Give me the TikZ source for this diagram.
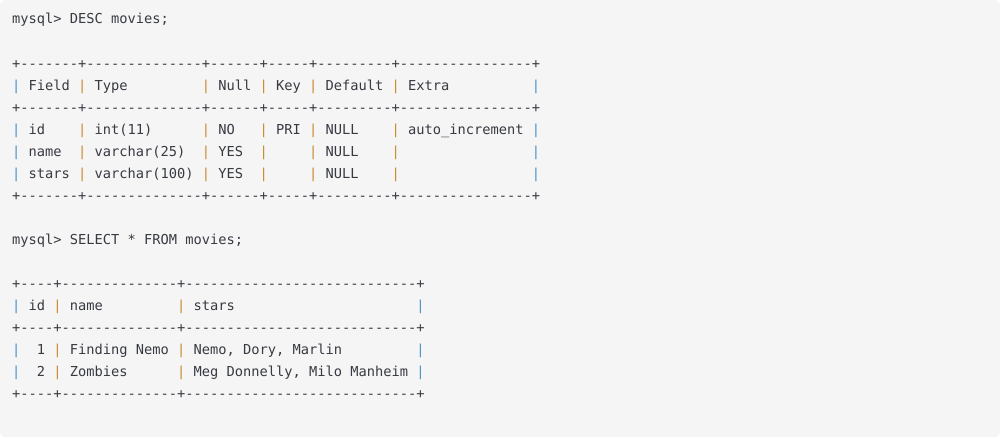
\documentclass[tikz,border=0pt]{standalone}
\usepackage{fontspec}
\setmonofont{DejaVu Sans Mono}
\definecolor{bg}{HTML}{F5F5F5}
\definecolor{txt}{HTML}{383A42}
\definecolor{pb}{HTML}{4A90C8}
\definecolor{po}{HTML}{C8892E}
\newcommand{\bq}{{\color{pb}|}}
\newcommand{\oq}{{\color{po}|}}
\begin{document}
\begin{tikzpicture}[x=1pt,y=-1pt,
  ln/.style={anchor=base west,inner sep=0pt,font=\ttfamily\fontsize{13.7}{16}\selectfont,text=txt}]
\fill[bg,rounded corners=6pt] (0,0) rectangle (1000,437);
\node[ln] (l1) at (12,23) {mysql> DESC movies;};
\node[ln] (l2) at (12,68) {+-------+--------------+------+-----+---------+----------------+};
\node[ln] (l3) at (12,90) {\bq~Field~\oq~Type~~~~~~~~~\oq~Null~\oq~Key~\oq~Default~\oq~Extra~~~~~~~~~~\bq};
\node[ln] (l4) at (12,112) {+-------+--------------+------+-----+---------+----------------+};
\node[ln] (l5) at (12,134) {\bq~id~~~~\oq~int(11)~~~~~~\oq~NO~~~\oq~PRI~\oq~NULL~~~~\oq~auto\_increment~\bq};
\node[ln] (l6) at (12,156) {\bq~name~~\oq~varchar(25)~~\oq~YES~~\oq~~~~~\oq~NULL~~~~\oq~~~~~~~~~~~~~~~~\bq};
\node[ln] (l7) at (12,178) {\bq~stars~\oq~varchar(100)~\oq~YES~~\oq~~~~~\oq~NULL~~~~\oq~~~~~~~~~~~~~~~~\bq};
\node[ln] (l8) at (12,200) {+-------+--------------+------+-----+---------+----------------+};
\node[ln] (l9) at (12,244) {mysql> SELECT * FROM movies;};
\node[ln] (l10) at (12,288) {+----+--------------+----------------------------+};
\node[ln] (l11) at (12,310) {\bq~id~\oq~name~~~~~~~~~\oq~stars~~~~~~~~~~~~~~~~~~~~~~\bq};
\node[ln] (l12) at (12,332) {+----+--------------+----------------------------+};
\node[ln] (l13) at (12,354) {\bq~~1~\oq~Finding Nemo~\oq~Nemo, Dory, Marlin~~~~~~~~~\bq};
\node[ln] (l14) at (12,376) {\bq~~2~\oq~Zombies~~~~~~\oq~Meg Donnelly, Milo Manheim~\bq};
\node[ln] (l15) at (12,398) {+----+--------------+----------------------------+};
\end{tikzpicture}
\end{document}
